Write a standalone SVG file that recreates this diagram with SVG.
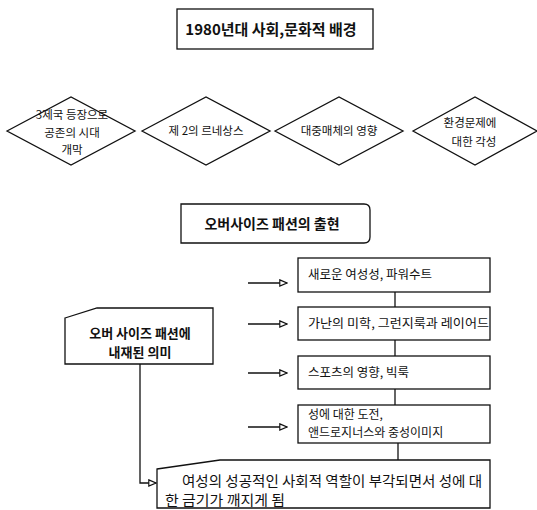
<svg xmlns="http://www.w3.org/2000/svg" width="537" height="510" viewBox="0 0 537 510">
<style>
.s{fill:#fff;stroke:#111;stroke-width:1.3}
.l{fill:none;stroke:#111;stroke-width:1.3}
text{font-family:"Noto Sans CJK KR","Noto Sans",sans-serif;fill:#111}
.t{font-size:15px;font-weight:bold;text-anchor:middle}
.h{font-size:14px;font-weight:bold;text-anchor:middle}
.d{font-size:11.5px;text-anchor:middle}
.b{font-size:12.5px}
.b4{font-size:12px}
.m{font-size:13px;font-weight:bold;text-anchor:middle}
.p{font-size:13.5px}
</style>
<defs>
<marker id="ar" viewBox="0 0 10 10" refX="9" refY="5" markerWidth="9" markerHeight="9" markerUnits="userSpaceOnUse" orient="auto">
<path d="M1,1.5 L9,5 L1,8.5 Z" fill="#fff" stroke="#111" stroke-width="1.3"/>
</marker>
</defs>
<rect width="537" height="510" fill="#fff"/>
<g id="title">
<rect class="s" x="177" y="9" width="196" height="40"/>
<text class="t" x="271" y="35">1980년대 사회,문화적 배경</text>
</g>
<g id="d1">
<polygon class="s" points="7,131 71,97 135,131 71,165"/>
<text class="d" x="72" y="119">3제국 등장으로</text>
<text class="d" x="72" y="137">공존의 시대</text>
<text class="d" x="72" y="154">개막</text>
</g>
<g id="d2">
<polygon class="s" points="142,131 206,97 270,131 206,165"/>
<text class="d" x="206" y="135">제 2의 르네상스</text>
</g>
<g id="d3">
<polygon class="s" points="275,131 339,97 403,131 339,165"/>
<text class="d" x="339" y="135">대중매체의 영향</text>
</g>
<g id="d4">
<polygon class="s" points="413,131 475,97 537,131 475,165"/>
<text class="d" x="470" y="127">환경문제에</text>
<text class="d" x="474" y="146">대한 각성</text>
</g>
<g id="heading2">
<path class="s" d="M181,204 H364 Q370,204 370,210 V237 Q370,243 364,243 H181 Z"/>
<text class="h" x="272" y="229">오버사이즈 패션의 출현</text>
</g>
<g id="meaning">
<polygon class="s" points="65,318 97,308 213,308 213,364 65,364"/>
<text class="m" x="140" y="338">오버 사이즈 패션에</text>
<text class="m" x="140" y="357">내재된 의미</text>
</g>
<g id="b1">
<rect class="s" x="298" y="258" width="192" height="34"/>
<text class="b" x="308" y="279">새로운 여성성, 파워수트</text>
</g>
<g id="b2">
<rect class="s" x="298" y="307" width="192" height="33"/>
<text class="b" x="308" y="328" textLength="181" lengthAdjust="spacingAndGlyphs">가난의 미학, 그런지룩과 레이어드</text>
</g>
<g id="b3">
<rect class="s" x="298" y="356" width="192" height="33"/>
<text class="b" x="308" y="377">스포츠의 영향, 빅룩</text>
</g>
<g id="b4">
<rect class="s" x="298" y="405" width="192" height="38"/>
<text class="b4" x="308" y="419">성에 대한 도전,</text>
<text class="b4" x="308" y="437">앤드로지너스와 중성이미지</text>
</g>
<g id="result">
<polygon class="s" points="157,469 220,460 490,460 490,508 157,508"/>
<text class="p" x="182" y="486" textLength="300" lengthAdjust="spacingAndGlyphs">여성의 성공적인 사회적 역할이 부각되면서 성에  대</text>
<text class="p" x="165" y="505" textLength="120" lengthAdjust="spacingAndGlyphs">한 금기가 깨지게 됨</text>
</g>
<g id="connectors">
<line class="l" x1="395" y1="292" x2="395" y2="307"/>
<line class="l" x1="395" y1="340" x2="395" y2="356"/>
<line class="l" x1="395" y1="389" x2="395" y2="405"/>
<line class="l" x1="398" y1="443" x2="398" y2="460"/>
<line class="l" x1="248" y1="283" x2="287" y2="283" marker-end="url(#ar)"/>
<line class="l" x1="248" y1="324" x2="287" y2="324" marker-end="url(#ar)"/>
<line class="l" x1="248" y1="373" x2="287" y2="373" marker-end="url(#ar)"/>
<line class="l" x1="248" y1="427" x2="287" y2="427" marker-end="url(#ar)"/>
<polyline class="l" points="140,364 140,483 156,483" marker-end="url(#ar)"/>
</g>
</svg>
